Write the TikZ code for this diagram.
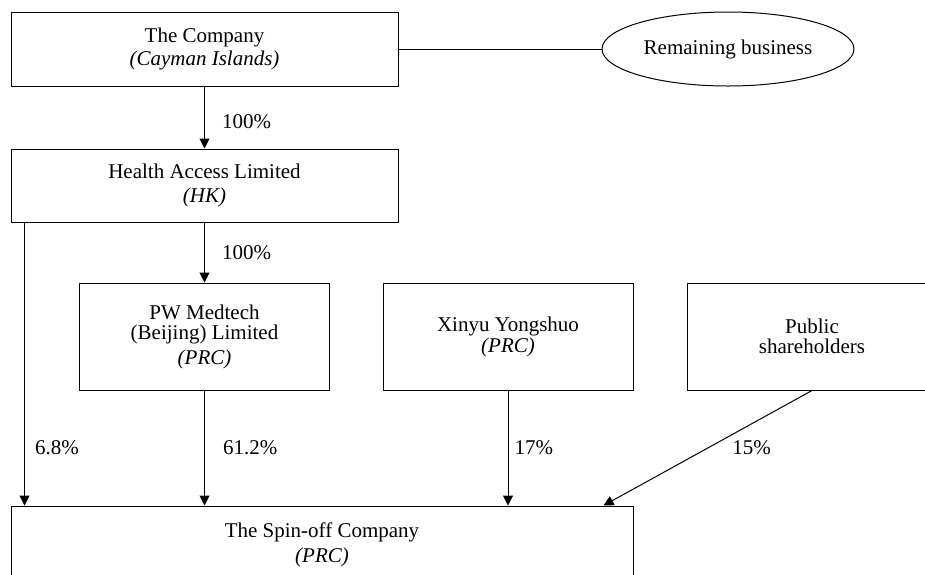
\documentclass[tikz,border=0pt]{standalone}
\usepackage{fontspec}
\setmainfont{Liberation Serif}
\usetikzlibrary{arrows.meta,shapes.geometric}

\begin{document}
\begin{tikzpicture}[x=1pt,y=-1pt,
  box/.style={draw,line width=1pt,rectangle,align=center,inner sep=0pt,font=\fontsize{21}{21}\selectfont},
  arr/.style={line width=1pt,-{Triangle[width=10pt,length=10pt]}},
  pct/.style={anchor=west,inner sep=0pt,font=\fontsize{21}{21}\selectfont}]
\useasboundingbox (0,0) rectangle (925,574);
\clip (0,0) rectangle (925,574);

\node[box,minimum width=387pt,minimum height=74pt] (company) at (204.5,49) {The Company\\[2pt]\textit{(Cayman Islands)}};
\node[box,ellipse,minimum width=252pt,minimum height=74pt] (remaining) at (728,49) {Remaining business};
\node[box,minimum width=387pt,minimum height=73pt] (hal) at (204.5,185.5) {Health Access Limited\\[3pt]\textit{(HK)}};
\node[box,minimum width=250pt,minimum height=107pt] (pw) at (204.5,336.5) {PW Medtech\\[-1pt](Beijing) Limited\\[4pt]\textit{(PRC)}};
\node[box,minimum width=250pt,minimum height=107pt] (xinyu) at (508,336.5) {Xinyu Yongshuo\\\textit{(PRC)}};
\node[box,minimum width=250pt,minimum height=107pt] (public) at (812,336.5) {Public\\[-1pt]shareholders};
\node[box,minimum width=622pt,minimum height=78pt] (spin) at (322,545) {The Spin-off Company\\[4pt]\textit{(PRC)}};

\draw[line width=1pt] (company) -- (remaining);
\draw[arr] (company) -- (hal) node[pct,pos=0.56,xshift=17pt] {100\%};
\draw[arr] (hal) -- (pw) node[pct,pos=0.51,xshift=17pt] {100\%};
\draw[arr] ([xshift=14pt]hal.south west) -- ([xshift=14pt]spin.north west) node[pct,pos=0.796,xshift=10pt] {6.8\%};
\draw[arr] (pw.south) -- (pw.south |- spin.north) node[pct,midway,xshift=18pt] {61.2\%};
\draw[arr] (xinyu.south) -- (xinyu.south |- spin.north) node[pct,midway,xshift=6pt] {17\%};
\draw[arr] (public.south) -- ([xshift=-30pt]spin.north east) node[pct,midway,xshift=24pt] {15\%};
\end{tikzpicture}
\end{document}
